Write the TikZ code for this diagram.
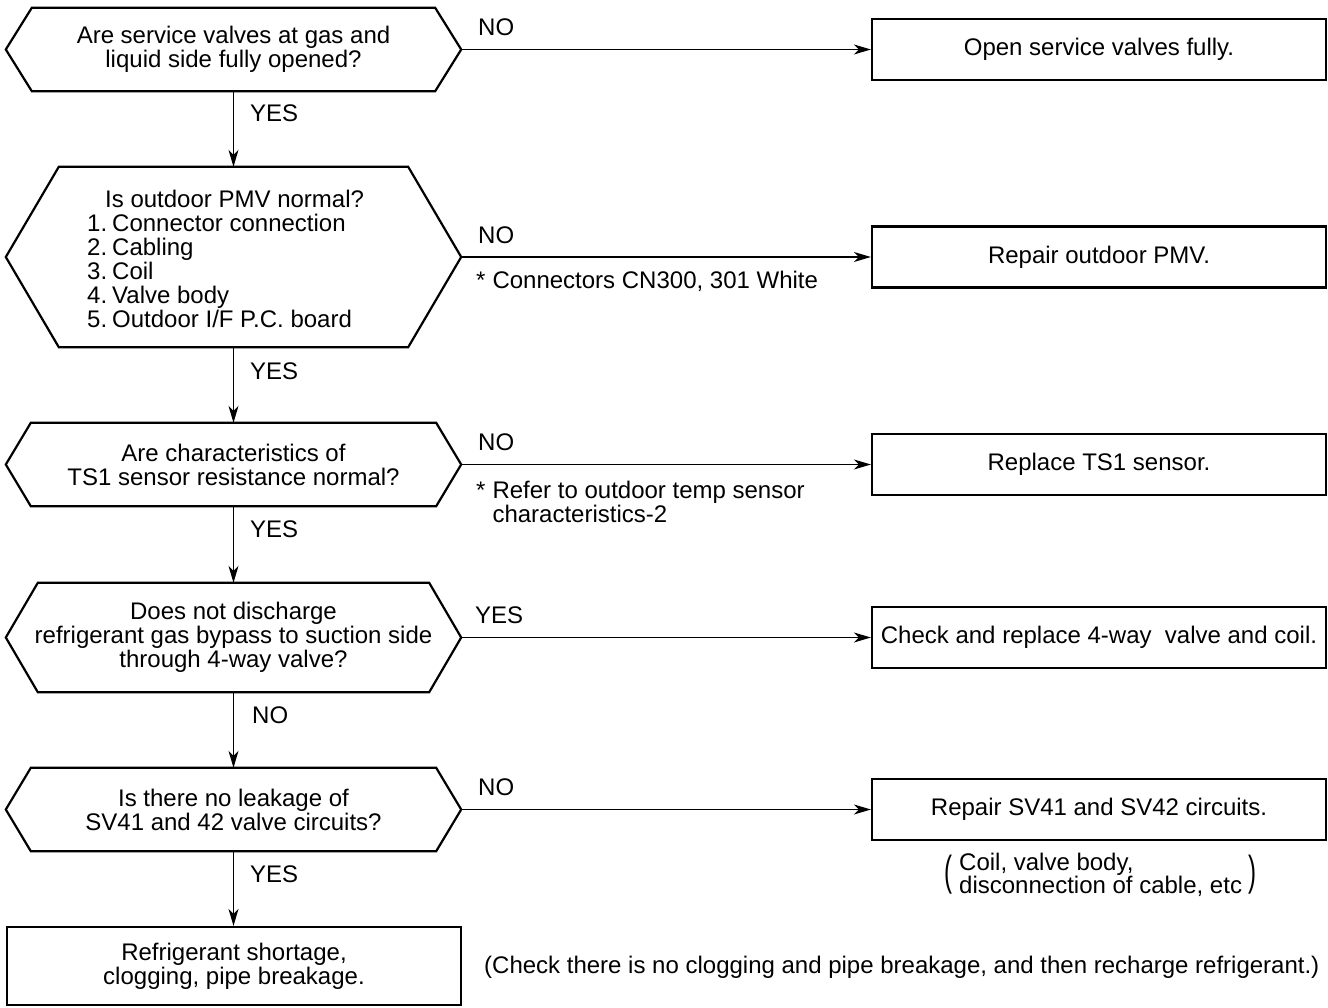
\documentclass[tikz,border=0pt]{standalone}
\usepackage{fontspec}
\setmainfont{Liberation Sans}
\usetikzlibrary{arrows.meta}
\newcommand\hexout[2]{\draw[outl] (#1.west) -- ([xshift=#2]#1.north west) -- ([xshift=-#2]#1.north east) -- (#1.east) -- ([xshift=-#2]#1.south east) -- ([xshift=#2]#1.south west) -- cycle;}
\begin{document}
\begin{tikzpicture}[x=1pt,y=-1pt,
  every node/.style={font=\fontsize{24}{24}\selectfont, inner sep=0pt},
  hexa/.style={minimum width=455pt, align=center},
  box/.style={draw, line width=2.2pt, minimum width=454pt, minimum height=61pt, align=center},
  outl/.style={line width=2.2pt, line join=miter},
  arr/.style={line width=1.3pt, -{Stealth[length=17pt,width=10pt,inset=5pt]}},
  lbl/.style={anchor=west},
]
\useasboundingbox (0,0) rectangle (1328,1008);

% decision hexagons
\node[hexa, minimum height=83pt] (h1) at (233.5,49.5) {Are service valves at gas and\\liquid side fully opened?};
\node[hexa, minimum height=180pt] (h2) at (233.5,257) {};
\node[anchor=north west, align=left] (h2t) at (87,190) {\hspace*{18pt}Is outdoor PMV normal?\\1.\hspace{5pt}Connector connection\\2.\hspace{5pt}Cabling\\3.\hspace{5pt}Coil\\4.\hspace{5pt}Valve body\\5.\hspace{5pt}Outdoor I/F P.C. board};
\node[hexa, minimum height=83pt] (h3) at (233.5,464.5) {Are characteristics of\\TS1 sensor resistance normal?};
\node[hexa, minimum height=109pt] (h4) at (233.5,637.5) {Does not discharge\\refrigerant gas bypass to suction side\\through 4-way valve?};
\node[hexa, minimum height=83pt] (h5) at (233.5,809.5) {Is there no leakage of\\SV41 and 42 valve circuits?};
\hexout{h1}{26}
\hexout{h2}{53}
\hexout{h3}{25}
\hexout{h4}{32}
\hexout{h5}{25}

% action boxes
\node[box, minimum height=78pt] (b6) at (234,966) {Refrigerant shortage,\\clogging, pipe breakage.};
\node[box] (b1) at (1099,49.5) {Open service valves fully.};
\node[box] (b2) at (1099,257) {Repair outdoor PMV.};
\node[box] (b3) at (1099,464.5) {Replace TS1 sensor.};
\node[box] (b4) at (1099,637.5) {Check and replace 4-way\ \ valve and coil.};
\node[box] (b5) at (1099,809.5) {Repair SV41 and SV42 circuits.};

% connectors
\draw[arr] (h1.south) -- (h2.north);
\draw[arr] (h2.south) -- (h3.north);
\draw[arr] (h3.south) -- (h4.north);
\draw[arr] (h4.south) -- (h5.north);
\draw[arr] (h5.south) -- (h5.south |- b6.north);
\draw[arr] (h1.east) -- (b1.west);
\draw[arr] (h2.east) -- (b2.west);
\draw[arr] (h3.east) -- (b3.west);
\draw[arr] (h4.east) -- (b4.west);
\draw[arr] (h5.east) -- (b5.west);

% labels
\node[lbl] (l1) at (478,27) {NO};
\node[lbl] (l2) at (478,235) {NO};
\node[lbl] (l3) at (478,442) {NO};
\node[lbl] (l4) at (475,615) {YES};
\node[lbl] (l5) at (478,787) {NO};
\node[lbl] (v1) at (250,113) {YES};
\node[lbl] (v2) at (250,371) {YES};
\node[lbl] (v3) at (250,529) {YES};
\node[lbl] (v4) at (252,715) {NO};
\node[lbl] (v5) at (250,874) {YES};

% notes
\node[lbl] (n2) at (476,281) {*\hspace{7pt}Connectors CN300, 301 White};
\node[lbl, align=left, font=\fontsize{24}{22}\selectfont] (n3) at (476,502) {*\hspace{7pt}Refer to outdoor temp sensor\\\phantom{*}\hspace{7pt}characteristics-2};
\node[lbl, align=left, font=\fontsize{24}{20}\selectfont] (n5) at (959,875) {Coil, valve body,\\disconnection of cable, etc};
\node[anchor=east] (lp) at ([xshift=-6pt]n5.west) {\scalebox{1}[1.75]{(}};
\node[anchor=west] (rp) at ([xshift=6pt]n5.east) {\scalebox{1}[1.75]{)}};
\node[lbl] (n6) at (484,967) {(Check there is no clogging and pipe breakage, and then recharge refrigerant.)};
\end{tikzpicture}
\end{document}
